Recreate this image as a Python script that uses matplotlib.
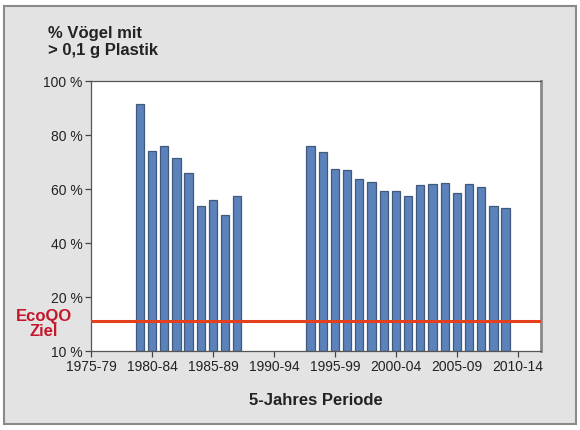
import matplotlib
matplotlib.use("Agg")
import matplotlib.pyplot as plt
from matplotlib.patches import Rectangle

# Data (start year of each 5-year period -> % birds with > 0.1 g plastic)
years_a = [1979, 1980, 1981, 1982, 1983, 1984, 1985, 1986, 1987]
values_a = [91.4, 74.0, 75.8, 71.5, 65.9, 53.6, 55.8, 50.3, 57.3]
years_b = [1993, 1994, 1995, 1996, 1997, 1998, 1999, 2000, 2001,
           2002, 2003, 2004, 2005, 2006, 2007, 2008, 2009]
values_b = [75.8, 73.5, 67.4, 66.9, 63.7, 62.6, 59.3, 59.3, 57.2,
            61.3, 61.7, 62.2, 58.3, 61.9, 60.5, 53.5, 52.8]
ecoqo_target = 11
xtick_pos = [1975, 1980, 1985, 1990, 1995, 2000, 2005, 2010]
xtick_labels = ["1975-79", "1980-84", "1985-89", "1990-94",
                "1995-99", "2000-04", "2005-09", "2010-14"]
ytick_pos = [0, 20, 40, 60, 80, 100]
ytick_labels = ["10 %", "20 %", "40 %", "60 %", "80 %", "100 %"]

FONT = ["Liberation Sans Narrow", "Liberation Sans", "DejaVu Sans"]
plt.rcParams["font.family"] = FONT

fig = plt.figure(figsize=(5.8, 4.31), dpi=100)
fig.patch.set_facecolor("white")
# outer grey panel
fig.patches.append(Rectangle((4 / 580, 6 / 431), 572 / 580, 418 / 431,
                             transform=fig.transFigure, facecolor="#e3e3e3",
                             edgecolor="#8a8a8a", linewidth=1.5, zorder=-5))

ax = fig.add_axes([91 / 580, 1 - 351.7 / 431, 450 / 580, 270 / 431])
ax.set_zorder(2)
ax.set_facecolor("white")

bar_kw = dict(width=0.68, color="#5b82bb", edgecolor="#41597a", linewidth=0.9, zorder=2)
ax.bar(years_a, values_a, **bar_kw)
ax.bar(years_b, values_b, **bar_kw)
ax.axhline(ecoqo_target, color="#e5401e", linewidth=2.2, zorder=3)

ax.set_xlim(1975, 2011.9)
ax.set_ylim(0, 100)
ax.set_xticks(xtick_pos)
ax.set_xticklabels(xtick_labels, fontsize=10, color="#222222")
ax.set_yticks(ytick_pos)
ax.set_yticklabels(ytick_labels, fontsize=10, color="#222222")
ax.tick_params(axis="both", direction="out", length=4, width=0.9, color="#444444", pad=2)

for side in ["left", "bottom", "top"]:
    ax.spines[side].set_color("#555555")
    ax.spines[side].set_linewidth(0.9)
ax.spines["right"].set_color("#8a8a8a")
ax.spines["right"].set_linewidth(2)

ax.set_xlabel("5-Jahres Periode", fontsize=12, fontweight="bold", color="#222222", labelpad=14)

fig.text(48 / 580, 1 - 26 / 431, "% Vögel mit\n> 0,1 g Plastik", fontsize=12,
         fontweight="bold", color="#222222", va="top", ha="left", linespacing=1.15)
fig.text(44 / 580, 1 - 324 / 431, "EcoQO\nZiel", fontsize=12, fontweight="bold",
         color="#c4172c", va="center", ha="center", linespacing=1.05)

fig.savefig("out.png", dpi=100, facecolor=fig.get_facecolor())
